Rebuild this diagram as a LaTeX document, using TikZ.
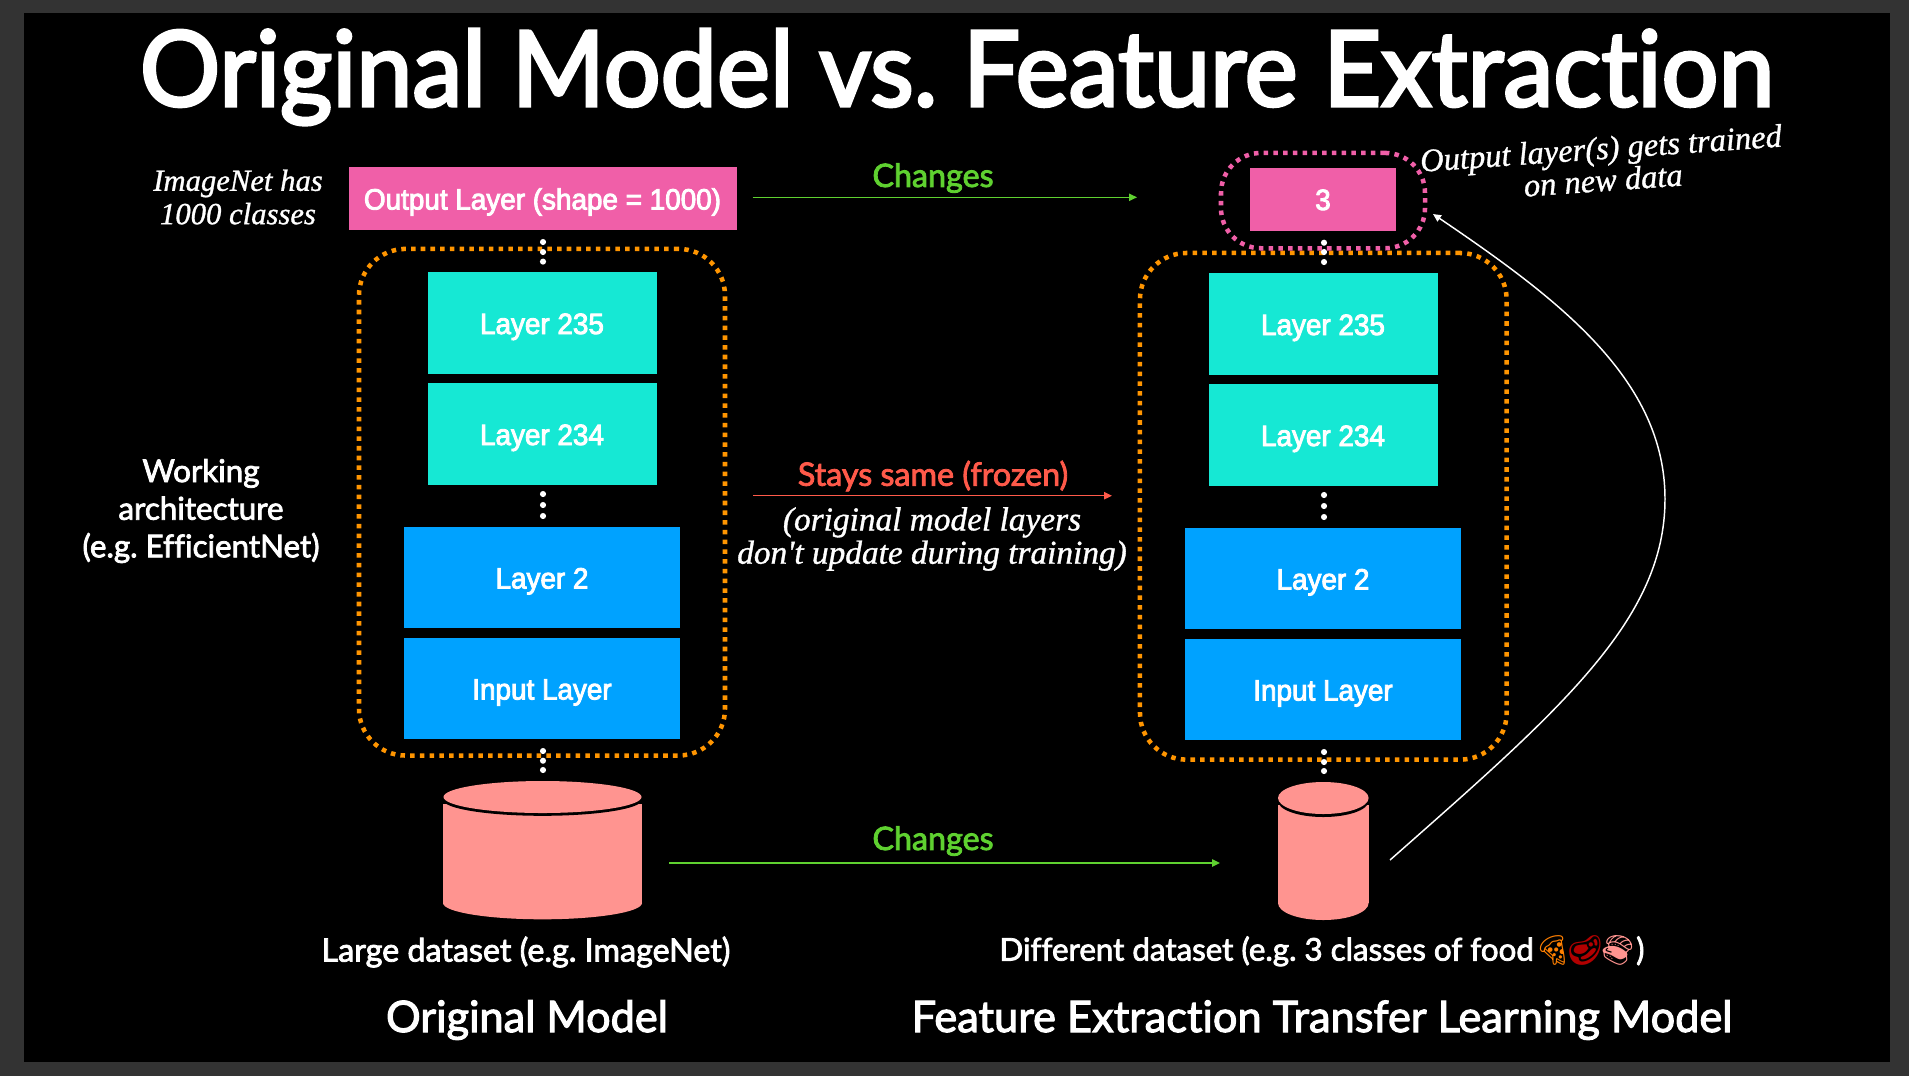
\documentclass[tikz,border=0pt]{standalone}
\usepackage{fontspec}
\usepackage{xcolor}
\usetikzlibrary{arrows.meta}
\setmainfont{Lato}
\newfontfamily\boxfamily[FakeBold=3,FakeStretch=0.95]{Liberation Sans}
\newfontfamily\headfamily[FakeBold=3,FakeStretch=0.96,Ligatures=NoCommon]{Lato}
\newfontfamily\labelfamily[FakeBold=2.5,Ligatures=NoCommon]{Lato}
\newfontfamily\handfamily[FakeBold=1]{Liberation Serif Italic}
\newfontfamily\emojifamily{Noto Emoji}
\frenchspacing

\definecolor{framegray}{HTML}{333333}
\definecolor{outputpink}{HTML}{F05FA8}
\definecolor{layercyan}{HTML}{16E8D4}
\definecolor{layerblue}{HTML}{00A2FF}
\definecolor{frameorange}{HTML}{FF9500}
\definecolor{datasalmon}{HTML}{FF9490}
\definecolor{changegreen}{HTML}{5FD130}
\definecolor{frozenred}{HTML}{FF5A4A}

\tikzset{
    layerbox/.style={rectangle, inner sep=0pt, text=white, text height=16.5pt, text depth=0pt, font=\boxfamily\fontsize{22}{25}\selectfont},
    outputbox/.style={layerbox, fill=outputpink, minimum height=47.25pt},
    cyanbox/.style={layerbox, fill=layercyan, minimum width=171.75pt, minimum height=76pt},
    bluebox/.style={layerbox, fill=layerblue, minimum width=207.5pt, minimum height=76pt},
    dashframe/.style={rectangle, draw=#1, line width=3.4pt, dash pattern=on 3.4pt off 3.9pt, inner sep=0pt},
    dotnode/.style={circle, fill=white, inner sep=0pt, minimum size=4.6pt},
    labeltext/.style={text=white, align=center, font=\labelfamily\fontsize{23.5}{28.2}\selectfont},
    wordtext/.style={text=#1, font=\labelfamily\fontsize{24.2}{28}\selectfont},
    nametext/.style={text=white, font=\labelfamily\fontsize{32.5}{36}\selectfont},
    handtext/.style={text=white, align=center, font=\handfamily\fontsize{23}{25}\selectfont},
    arrowline/.style={draw=#1, line width=1.1pt, -{Triangle[length=6pt,width=5.5pt]}},
}

\begin{document}
\begin{tikzpicture}[x=0.75pt,y=-0.75pt]
    \useasboundingbox (0,0) rectangle (1909,1076);
    \fill[framegray] (0,0) rectangle (1909,1076);
    \fill[black] (24,13) rectangle (1890,1062);

    \node[text=white, font=\headfamily\fontsize{78.5}{84}\selectfont] (title) at (957,77) {Original Model vs. Feature Extraction};

    % original model
    \node[outputbox, minimum width=291pt] (outputa) at (542.5,198.5) {Output Layer (shape = 1000)};
    \node[cyanbox] (topa) at (542,323) {Layer 235};
    \node[cyanbox] (nexta) at (542,434) {Layer 234};
    \node[bluebox] (seconda) at (542,577.5) {Layer 2};
    \node[bluebox] (inputa) at (542,688.5) {Input Layer};
    \node[dashframe=frameorange, minimum width=274.5pt, minimum height=380pt, rounded corners=35pt] (framea) at (542,502.2) {};

    \fill[datasalmon] (443,804) rectangle (642,903);
    \fill[datasalmon] (542.5,903) ellipse [x radius=99.5, y radius=16.3];
    \fill[black] (542.5,799.8) ellipse [x radius=99.5, y radius=16];
    \fill[datasalmon] (542.5,797) ellipse [x radius=99, y radius=16];

    % feature extraction model
    \node[outputbox, minimum width=109.5pt] (outputb) at (1323,199) {3};
    \node[cyanbox] (topb) at (1323,324) {Layer 235};
    \node[cyanbox] (nextb) at (1323,435) {Layer 234};
    \node[bluebox] (secondb) at (1323,578.5) {Layer 2};
    \node[bluebox] (inputb) at (1323,689.5) {Input Layer};
    \node[dashframe=frameorange, minimum width=275pt, minimum height=380pt, rounded corners=35pt] (frameb) at (1323.3,506.3) {};
    \node[dashframe=outputpink, minimum width=153pt, minimum height=71.5pt, rounded corners=30pt] (framec) at (1323,200.6) {};

    \fill[datasalmon] (1278,805) rectangle (1368.6,903);
    \fill[datasalmon] (1323.3,903) ellipse [x radius=45.3, y radius=17];
    \fill[black] (1323.3,801) ellipse [x radius=45.3, y radius=16];
    \fill[datasalmon] (1323.3,798) ellipse [x radius=45.3, y radius=16];

    \node[dotnode] (dotsa) at (543,242) {};
    \node[dotnode] (dotsb) at (543,252) {};
    \node[dotnode] (dotsc) at (543,261.6) {};

    \node[dotnode] (dotsd) at (543,494) {};
    \node[dotnode] (dotse) at (543,505) {};
    \node[dotnode] (dotsf) at (543,516) {};

    \node[dotnode] (dotsg) at (543,751) {};
    \node[dotnode] (dotsh) at (543,760.7) {};
    \node[dotnode] (dotsi) at (543,770) {};

    \node[dotnode] (dotsj) at (1324,242.7) {};
    \node[dotnode] (dotsk) at (1324,252) {};
    \node[dotnode] (dotsl) at (1324,262) {};

    \node[dotnode] (dotsm) at (1324,495) {};
    \node[dotnode] (dotsn) at (1324,506) {};
    \node[dotnode] (dotso) at (1324,517) {};

    \node[dotnode] (dotsp) at (1324,752) {};
    \node[dotnode] (dotsq) at (1324,762) {};
    \node[dotnode] (dotsr) at (1324,771) {};

    % arrows
    \coordinate (outputstart) at (752.5,197.3);
    \coordinate (outputend) at (1137,197.3);
    \coordinate (frozenstart) at (753,495.7);
    \coordinate (frozenend) at (1112,495.7);
    \coordinate (datastart) at (669,863);
    \coordinate (dataend) at (1220,863);
    \coordinate (curvestart) at (1390,860);
    \coordinate (curveend) at (1433,214);

    \draw[arrowline=changegreen] (outputstart) -- (outputend);
    \draw[arrowline=frozenred] (frozenstart) -- (frozenend);
    \draw[arrowline=changegreen] (datastart) -- (dataend);
    \draw[arrowline=white] (curvestart) .. controls (1560,710) and (1665,620) .. (1665,499) .. controls (1665,380) and (1560,300) .. (curveend);

    % labels
    \node[wordtext=changegreen] (changesa) at (933,178) {Changes};
    \node[wordtext=changegreen] (changesb) at (933,841) {Changes};
    \node[wordtext=frozenred] (frozen) at (933,476) {Stays same (frozen)};
    \node[labeltext] (working) at (201,511) {Working\\architecture\\(e.g. EfficientNet)};
    \node[wordtext=white] (largedata) at (526,952) {Large dataset (e.g. ImageNet)};
    \node[labeltext] (fooddata) at (1322,951) {Different dataset (e.g. 3 classes of food{\emojifamily\fontsize{22}{24}\selectfont\textcolor{orange}{🍕}\hspace{-3.5pt}\textcolor{red!70!black}{🥩}\hspace{-3.5pt}\textcolor{datasalmon}{🍣}})};
    \node[nametext] (originalname) at (527,1020) {Original Model};
    \node[nametext] (featurename) at (1322,1020) {Feature Extraction Transfer Learning Model};

    \node[handtext] (imagenet) at (238,197) {ImageNet has\\1000 classes};
    \node[handtext, font=\handfamily\fontsize{25}{25}\selectfont] (dontupdate) at (932,539) {(original model layers\\don't update during training)};
    \node[handtext, rotate=4, font=\handfamily\fontsize{24.4}{24}\selectfont] (trained) at (1602,164) {Output layer(s) gets trained\\on new data};
\end{tikzpicture}
\end{document}
